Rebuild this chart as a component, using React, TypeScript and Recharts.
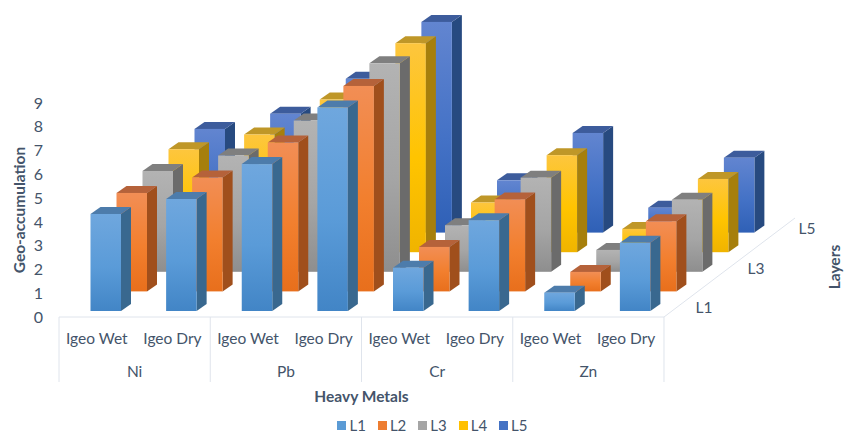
import { Bar, BarChart, Legend, XAxis, YAxis } from "recharts";

const WIDTH = 845;
const HEIGHT = 434;
const TEXT = "#44546a";
const FONT = "Lato, sans-serif";
const RULE = "#dfe4ec";

const metals = ["Ni", "Ni", "Pb", "Pb", "Cr", "Cr", "Zn", "Zn"];
const tests = ["Igeo Wet", "Igeo Dry", "Igeo Wet", "Igeo Dry", "Igeo Wet", "Igeo Dry", "Igeo Wet", "Igeo Dry"];
const yTicks = [0, 1, 2, 3, 4, 5, 6, 7, 8, 9];

const L1 = [4.08, 4.71, 6.18, 8.56, 1.82, 3.82, 0.77, 2.87];
const L2 = [4.14, 4.79, 6.26, 8.64, 1.87, 3.87, 0.82, 2.95];
const L3 = [4.24, 4.89, 6.36, 8.77, 1.96, 3.96, 0.92, 3.03];
const L4 = [4.33, 4.95, 6.42, 8.79, 2.09, 4.08, 0.98, 3.08];
const L5 = [4.36, 5.0, 6.47, 8.86, 2.2, 4.19, 1.05, 3.15];

const rows = metals.map((metal, i) => ({
  metal,
  test: tests[i],
  L1: L1[i],
  L2: L2[i],
  L3: L3[i],
  L4: L4[i],
  L5: L5[i],
}));

// front-to-back order; the depth index drives the oblique offset of each row of bars
const layers = [
  { key: "L1", swatch: "#5b9bd5", light: "#6fa7de", mid: "#5a9bd8", dark: "#4285c6", side: "#39688f", top: "#4d7cab" },
  { key: "L2", swatch: "#ed7d31", light: "#f28e55", mid: "#f27f2e", dark: "#e86f1c", side: "#a04f1c", top: "#b5623a" },
  { key: "L3", swatch: "#a5a5a5", light: "#b3b3b3", mid: "#a5a5a5", dark: "#8e8e8e", side: "#6b6b6b", top: "#7f7f7f" },
  { key: "L4", swatch: "#ffc000", light: "#fdc63e", mid: "#ffc400", dark: "#f0b400", side: "#a67f0c", top: "#bf9728" },
  { key: "L5", swatch: "#4472c4", light: "#6285d0", mid: "#4472c6", dark: "#2f60b6", side: "#274a80", top: "#3d5c9c" },
];

const DEPTH_X = 10;
const DEPTH_Y = 7;
const LAYER_DX = 26;
const LAYER_DY = 19.6;

function Prism(props: any) {
  const { x, y, width, height, depth } = props;
  const layer = layers[depth];
  const left = x + 8.5 + LAYER_DX * depth;
  const top = y - 6 - LAYER_DY * depth;
  const right = left + width;
  const bottom = top + height;
  return (
    <g>
      <polygon
        points={`${right},${top} ${right + DEPTH_X},${top - DEPTH_Y} ${right + DEPTH_X},${bottom - DEPTH_Y} ${right},${bottom}`}
        fill={layer.side}
      />
      <polygon
        points={`${left},${top} ${left + DEPTH_X},${top - DEPTH_Y} ${right + DEPTH_X},${top - DEPTH_Y} ${right},${top}`}
        fill={layer.top}
      />
      <rect x={left} y={top} width={width} height={height} fill={`url(#front-${layer.key})`} />
    </g>
  );
}

function MetalTick(props: any) {
  const { x, index, payload } = props;
  const step = 75.6;
  const isFirst = index % 2 === 0;
  return (
    <g>
      {isFirst && <line x1={x - step / 2} x2={x - step / 2} y1={317} y2={382} stroke={RULE} />}
      {index === 7 && <line x1={x + step / 2} x2={x + step / 2} y1={317} y2={382} stroke={RULE} />}
      {isFirst && (
        <text x={x + step / 2} y={377} textAnchor="middle" fontSize={15.5} fontFamily={FONT} fill={TEXT}>
          {payload.value}
        </text>
      )}
    </g>
  );
}

// floor edge running into the chart plus its series labels
function DepthAxis() {
  const labels = [
    { text: "L1", x: 704, y: 313 },
    { text: "L3", x: 756, y: 274 },
    { text: "L5", x: 807, y: 234 },
  ];
  return (
    <g fontFamily={FONT}>
      <line x1={664} y1={317} x2={795} y2={218} stroke={RULE} />
      {labels.map((l) => (
        <text key={l.text} x={l.x} y={l.y} textAnchor="middle" fontSize={15.5} fill={TEXT}>
          {l.text}
        </text>
      ))}
      <text
        x={840}
        y={267}
        textAnchor="middle"
        fontSize={15.5}
        fontWeight={700}
        fill={TEXT}
        transform="rotate(-90 840 267)"
      >
        Layers
      </text>
    </g>
  );
}

function LegendRow() {
  return (
    <div
      style={{
        display: "flex",
        justifyContent: "center",
        alignItems: "center",
        gap: 12,
        height: 22,
        paddingLeft: 192,
        boxSizing: "border-box",
        fontFamily: FONT,
        fontSize: 15,
        lineHeight: "18px",
        color: TEXT,
      }}
    >
      {layers.map((l) => (
        <span key={l.key} style={{ display: "inline-flex", alignItems: "center", gap: 3, marginTop: 4 }}>
          <span style={{ width: 9, height: 9, background: l.swatch, display: "inline-block" }} />
          {l.key}
        </span>
      ))}
    </div>
  );
}

export default function App() {
  return (
    <div style={{ position: "absolute", left: 0, top: 0, width: WIDTH, height: HEIGHT, background: "#fff" }}>
      <BarChart
        width={WIDTH}
        height={HEIGHT}
        data={rows}
        barSize={30.5}
        barGap={-30.5}
        barCategoryGap={0}
        margin={{ top: 103, right: 181, bottom: 0, left: 9 }}
      >
        <defs>
          {layers.map((l) => (
            <linearGradient key={l.key} id={`front-${l.key}`} x1="0" y1="0" x2="0" y2="1">
              <stop offset="0%" stopColor={l.light} />
              <stop offset="55%" stopColor={l.mid} />
              <stop offset="100%" stopColor={l.dark} />
            </linearGradient>
          ))}
        </defs>
        <DepthAxis />
        <XAxis
          dataKey="test"
          interval={0}
          height={40}
          tickLine={false}
          axisLine={{ stroke: RULE }}
          tickMargin={10}
          tick={{ fontSize: 15.5, fontFamily: FONT, fill: TEXT }}
        />
        <XAxis
          xAxisId="metal"
          dataKey="metal"
          interval={0}
          height={55}
          tickLine={false}
          axisLine={false}
          tick={MetalTick}
          label={{
            value: "Heavy Metals",
            position: "insideBottom",
            offset: 10,
            fontSize: 15.5,
            fontWeight: 700,
            fontFamily: FONT,
            fill: TEXT,
          }}
        />
        <YAxis
          domain={[0, 9]}
          ticks={yTicks}
          width={50}
          tickLine={false}
          axisLine={false}
          tickMargin={10}
          tick={{ fontSize: 16, fontFamily: FONT, fill: TEXT }}
          label={{
            value: "Geo-accumulation",
            angle: -90,
            position: "insideLeft",
            offset: 10,
            style: { textAnchor: "middle" },
            fontSize: 15.5,
            fontWeight: 700,
            fontFamily: FONT,
            fill: TEXT,
          }}
        />
        <Legend verticalAlign="bottom" height={22} content={LegendRow} />
        {[...layers].reverse().map((l) => (
          <Bar
            key={l.key}
            dataKey={l.key}
            isAnimationActive={false}
            shape={(p: any) => <Prism {...p} depth={layers.indexOf(l)} />}
          />
        ))}
      </BarChart>
    </div>
  );
}
